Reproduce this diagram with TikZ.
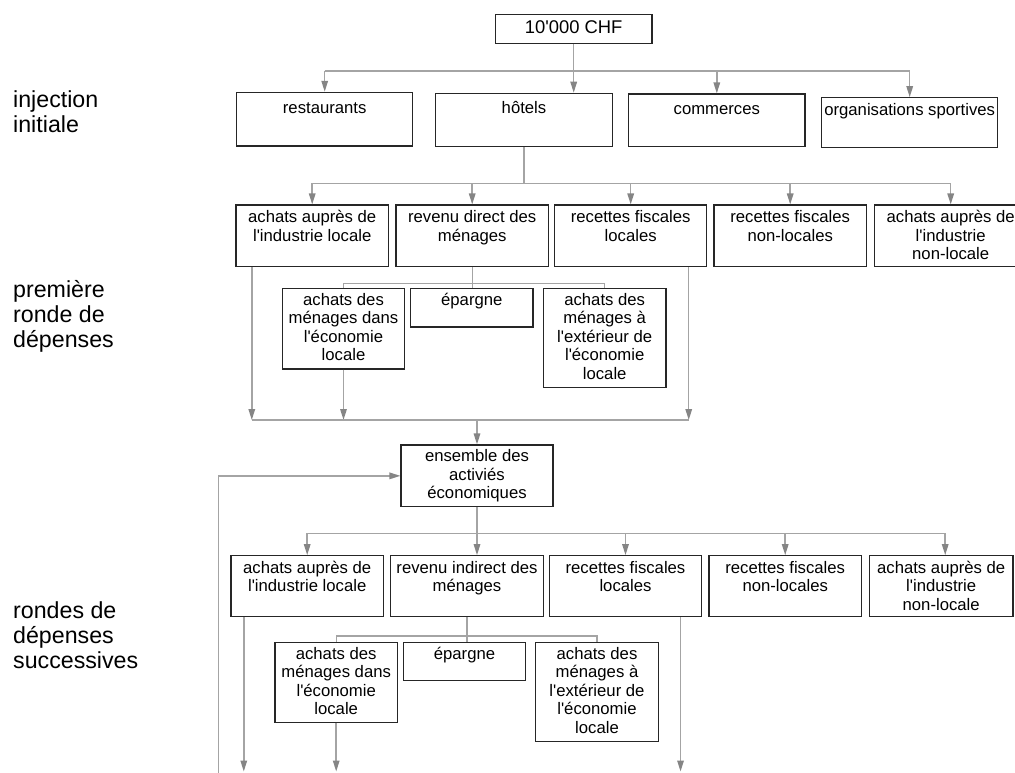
\documentclass[tikz,border=0pt]{standalone}
\usetikzlibrary{arrows.meta}
% Liberation Sans loaded directly, so straight apostrophes stay straight
\font\bxf="Liberation Sans" at 16.7pt
\font\tpf="Liberation Sans" at 18.4pt
\font\lbf="Liberation Sans" at 23.2pt
\definecolor{boxc}{HTML}{262626}
\definecolor{linec}{HTML}{A4A4A4}
\definecolor{tipc}{HTML}{858585}
% box contents: width, height, first-baseline offset, text
\newcommand\cellbox[5][\bxf]{\parbox[c][#3pt][t]{#2pt}{#1\baselineskip=18.6pt\centering\rule{0pt}{#4pt}#5\par}}
\newcommand\sidetext[1]{\parbox[t]{160pt}{\lbf\baselineskip=25.3pt\raggedright #1\par}}
\begin{document}
\begin{tikzpicture}[x=1pt,y=-1pt,
  bx/.style={draw=boxc,line width=1.15pt,inner sep=0pt,fill=white},
  side/.style={inner sep=0pt,anchor=base west},
  ln/.style={draw=linec,line width=1.5pt},
  thinln/.style={draw=linec,line width=1.1pt},
  arr/.style={ln,-{Triangle[length=11pt,width=6.5pt,color=tipc]}}]
\useasboundingbox (0,0) rectangle (1015,772);

% side labels
\node[side] (l1) at (13,107.3) {\sidetext{injection\\initiale}};
\node[side] (l2) at (13,297.3) {\sidetext{première\\ronde de\\dépenses}};
\node[side] (l3) at (13,618.3) {\sidetext{rondes de\\dépenses\\successives}};

% bus levels
\coordinate (b0) at (0,71);
\coordinate (b1) at (0,183.3);
\coordinate (b2) at (0,283.3);
\coordinate (b3) at (0,420);
\coordinate (b4) at (0,533.3);
\coordinate (b5) at (0,636);
\coordinate (bot) at (0,771.5);
\coordinate (fb) at (218.3,780);

% initial injection
\node[bx] (T) at (573.7,28.8) {\cellbox[\tpf]{156.7}{29}{19}{10'000 CHF}};
\node[bx] (R) at (324.7,119.2) {\cellbox{176}{53.7}{21}{restaurants}};
\node[bx] (H) at (524,120) {\cellbox{176.6}{53.4}{20}{hôtels}};
\node[bx] (C) at (716.8,120.3) {\cellbox{176.3}{52.7}{21}{commerces}};
\node[bx] (O) at (909.7,122.7) {\cellbox{176}{50}{17.3}{organisations sportives}};

% first round
\node[bx] (A1) at (312.2,235.75) {\cellbox{152.3}{61.5}{17.5}{achats auprès de\\l'industrie locale}};
\node[bx] (A2) at (472.2,235.75) {\cellbox{152.3}{61.5}{17.5}{revenu direct des\\ménages}};
\node[bx] (A3) at (630.7,235.75) {\cellbox{152.3}{61.5}{17.5}{recettes fiscales\\locales}};
\node[bx] (A4) at (790.2,235.75) {\cellbox{152.3}{61.5}{17.5}{recettes fiscales\\non-locales}};
\node[bx] (A5) at (950.7,235.75) {\cellbox{152.3}{61.5}{17.5}{achats auprès de\\l'industrie\\non-locale}};

\node[bx] (S1A) at (343.5,328.65) {\cellbox{122.4}{80.7}{16.7}{achats des\\ménages dans\\l'économie\\locale}};
\node[bx] (S1B) at (471.8,307.65) {\cellbox{122.3}{38.7}{16.7}{épargne}};
\node[bx] (S1C) at (604.7,338) {\cellbox{122.7}{99.4}{16.7}{achats des\\ménages à\\l'extérieur de\\l'économie\\locale}};

% all economic activities
\node[bx] (E) at (477,475.85) {\cellbox{152}{61.7}{16.7}{ensemble des\\activiés\\économiques}};

% successive rounds
\node[bx] (B1) at (307.2,586.25) {\cellbox{152.3}{61.1}{17.5}{achats auprès de\\l'industrie locale}};
\node[bx] (B2) at (467,586.25) {\cellbox{152.3}{61.1}{17.5}{revenu indirect des\\ménages}};
\node[bx] (B3) at (625.5,586.25) {\cellbox{152.3}{61.1}{17.5}{recettes fiscales\\locales}};
\node[bx] (B4) at (785.2,586.25) {\cellbox{152.3}{61.1}{17.5}{recettes fiscales\\non-locales}};
\node[bx] (B5) at (941.2,586.25) {\cellbox{143.7}{61.1}{17.5}{achats auprès de\\l'industrie\\non-locale}};

\node[bx] (S2A) at (336.2,682.3) {\cellbox{122.3}{80}{16.7}{achats des\\ménages dans\\l'économie\\locale}};
\node[bx] (S2B) at (464.5,661.3) {\cellbox{122.3}{38}{16.7}{épargne}};
\node[bx] (S2C) at (597,692) {\cellbox{122.6}{99.4}{16.7}{achats des\\ménages à\\l'extérieur de\\l'économie\\locale}};

% connectors: injection
\draw[ln] (R.north |- b0) -- (O.north |- b0);
\draw[arr] (T.south) -- (T.south |- H.north);
\foreach \n in {R,C,O} \draw[arr] (\n.north |- b0) -- (\n.north);

% connectors: first round
\draw[ln] (H.south) -- (H.south |- b1);
\draw[ln] (A1.north |- b1) -- (A5.north |- b1);
\foreach \n in {A1,A2,A3,A4,A5} \draw[arr] (\n.north |- b1) -- (\n.north);
\draw[thinln] (A2.south) -- (A2.south |- S1B.north);
\draw[thinln] (S1A.north) -- (S1A.north |- b2) -- (S1C.north |- b2) -- (S1C.north);

% gathering into the economy
\coordinate (A1o) at ([xshift=16.3pt]A1.south west);
\coordinate (A3o) at ([xshift=-18.7pt]A3.south east);
\draw[arr] (A1o) -- (A1o |- b3);
\draw[arr] (S1A.south) -- (S1A.south |- b3);
\draw[arr] (A3o) -- (A3o |- b3);
\draw[ln] (A1o |- b3) -- (A3o |- b3);
\draw[arr] (E.north |- b3) -- (E.north);

% connectors: successive rounds
\coordinate (B5i) at ([xshift=4pt]B5.north);
\draw[ln] (B1.north |- b4) -- (B5i |- b4);
\draw[arr] (E.south) -- (E.south |- B2.north);
\foreach \n in {B1,B3,B4} \draw[arr] (\n.north |- b4) -- (\n.north);
\draw[arr] (B5i |- b4) -- (B5i);
\draw[thinln] (B2.south) -- (B2.south |- S2B.north);
\draw[thinln] (S2A.north) -- (S2A.north |- b5) -- (S2C.north |- b5) -- (S2C.north);

\coordinate (B1o) at ([xshift=13.3pt]B1.south west);
\coordinate (B3o) at ([xshift=-21.7pt]B3.south east);
\draw[arr] (B1o) -- (B1o |- bot);
\draw[arr] (S2A.south) -- (S2A.south |- bot);
\draw[arr] (B3o) -- (B3o |- bot);

% feedback into the economy
\draw[arr] (fb) |- (E.west);
\end{tikzpicture}
\end{document}
